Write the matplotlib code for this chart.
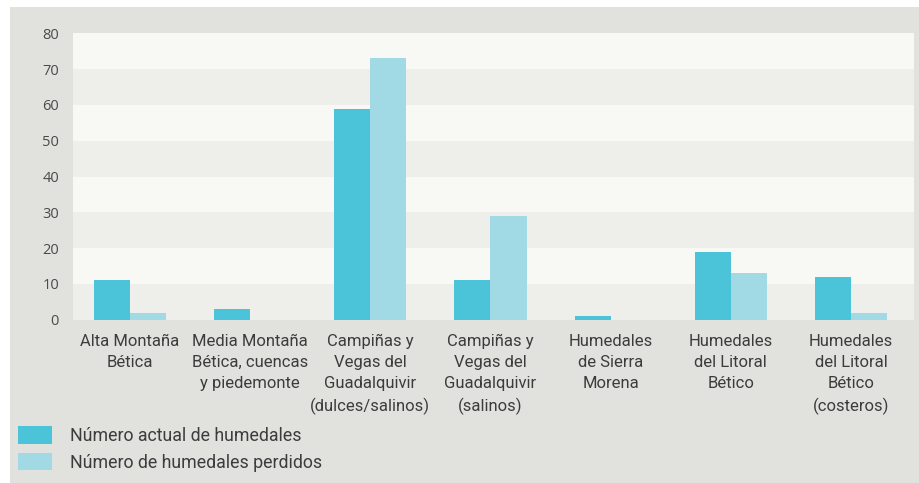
import matplotlib
matplotlib.use("Agg")
import matplotlib.pyplot as plt
import numpy as np
from matplotlib.patches import Rectangle, Patch
from matplotlib import font_manager

categories = ["Alta Montaña\nBética",
              "Media Montaña\nBética, cuencas\ny piedemonte",
              "Campiñas y\nVegas del\nGuadalquivir\n(dulces/salinos)",
              "Campiñas y\nVegas del\nGuadalquivir\n(salinos)",
              "Humedales\nde Sierra\nMorena",
              "Humedales\ndel Litoral\nBético",
              "Humedales\ndel Litoral\nBético\n(costeros)"]
actual = [11, 3, 59, 11, 1, 19, 12]
perdidos = [2, 0, 73, 29, 0, 13, 2]
series_names = ["Número actual de humedales", "Número de humedales perdidos"]
yticks = [0, 10, 20, 30, 40, 50, 60, 70, 80]

c_act = "#4bc3d8"
c_lost = "#a1d9e4"
bg_outer = "#e1e2de"
band_light = "#f8f8f5"
band_dark = "#eeefeb"
txt = "#3c3c3c"

names = {f.name for f in font_manager.fontManager.ttflist}
fam = ["Liberation Sans Narrow", "DejaVu Sans"] if "Liberation Sans Narrow" in names else ["Roboto", "DejaVu Sans"]

fig = plt.figure(figsize=(9.2, 4.83), dpi=100, facecolor="white")
fig.patches.append(Rectangle((10/920, 0), 1, 1 - 7/483, transform=fig.transFigure,
                             facecolor=bg_outer, edgecolor="none", zorder=-10))

ax = fig.add_axes([73/920, 163.3/483, 841/920, 286.3/483])
ax.set_facecolor(band_light)
for i in range(len(yticks) - 1):
    col = band_dark if i % 2 == 0 else band_light
    ax.axhspan(yticks[i], yticks[i + 1], facecolor=col, edgecolor="none", zorder=0)

x = np.arange(len(categories))
w = 0.3
ax.bar(x - w/2 - 0.025, actual, width=w, color=c_act, zorder=2)
ax.bar(x + w/2 - 0.025, perdidos, width=w, color=c_lost, zorder=2)

ax.set_xlim(-0.5, len(categories) - 0.5)
ax.set_ylim(0, 80)
ax.set_yticks(yticks)
ax.set_yticklabels([str(v) for v in yticks], family=["Open Sans", "DejaVu Sans"],
                   fontsize=10.5, color="#4a4a4a")
ax.set_xticks(x - 0.025)
ax.set_xticklabels(categories, family=fam, fontsize=12, color=txt, linespacing=1.5,
                   va="top")
ax.tick_params(axis="both", length=0)
ax.tick_params(axis="y", pad=10)
ax.tick_params(axis="x", pad=10)
for s in ax.spines.values():
    s.set_visible(False)

handles = [Patch(facecolor=c_act, edgecolor="none"), Patch(facecolor=c_lost, edgecolor="none")]
leg = fig.legend(handles, series_names, loc="upper left", bbox_to_anchor=(18/920, 1 - 426/483),
                 frameon=False, borderpad=0, borderaxespad=0,
                 handlelength=1.9, handleheight=1.15, handletextpad=1.0,
                 labelspacing=0.45, prop={"family": fam, "size": 12.8})
for t in leg.get_texts():
    t.set_color(txt)

fig.savefig("out.png", dpi=100, facecolor=fig.get_facecolor())
